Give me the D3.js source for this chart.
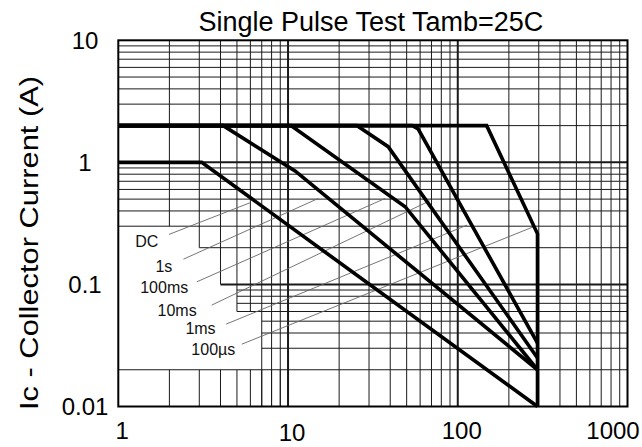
<!DOCTYPE html>
<html><head><meta charset="utf-8">
<script src="https://cdn.jsdelivr.net/npm/d3@7"></script>
<style>html,body{margin:0;padding:0;background:#fff;} svg{display:block;}</style>
</head><body>
<svg id="c" width="642" height="447"></svg>
<script>
// ---------- data ----------
const xTickValues = [1, 10, 100, 1000];
const xTickLabels = ["1", "10", "100", "1000"];
const yTickValues = [10, 1, 0.1, 0.01];
const yTickLabels = ["10", "1", "0.1", "0.01"];
const titleText = "Single Pulse Test Tamb=25C";
const yTitleText = "Ic - Collector Current (A)";

const seriesNames = ["DC", "1s", "100ms", "10ms", "1ms", "100µs"];
const dcV   = [1, 3.1, 295],          dcI   = [1, 1, 0.01];
const s1V   = [1, 4.15, 11, 295],     s1I   = [2, 2, 0.85, 0.02];
const ms100V= [1, 10.4, 49, 295],     ms100I= [2, 2, 0.433, 0.02];
const ms10V = [1, 25.4, 38.9, 295],   ms10I = [2, 2, 1.345, 0.025];
const ms1V  = [1, 54, 58.5, 295],     ms1I  = [2, 2, 1.875, 0.033];
const us100V= [1, 148, 295, 295],     us100I= [2, 2, 0.26, 0.01];

// label anchors and leader lines (data coordinates)
const labelV = [1.47, 1.857, 1.865, 2.22, 3.05, 3.63];
const labelI = [0.223, 0.141, 0.0945, 0.0616, 0.0436, 0.0293];
const leadFromV = [1.99, 2.42, 2.90, 3.55, 4.32, 5.34];
const leadFromI = [0.257, 0.161, 0.105, 0.0677, 0.0473, 0.0324];
const leadToV = [5.98, 15.1, 37.4, 68.3, 113.3, 279.8];
const leadToI = [0.467, 0.507, 0.507, 0.484, 0.306, 0.297];

// grid structure
const minorMult = [2, 3, 4, 5, 6, 7, 8, 9];
const hGridLowI = [0.9, 0.8, 0.7, 0.6, 0.5, 0.4, 0.3, 0.2, 0.09, 0.08, 0.07, 0.06, 0.05, 0.04, 0.03, 0.02];
const hGridLowStartV = [1, 1, 1, 1, 1, 1, 1, 3, 5, 5, 5, 5, 7, 7, 7, 1];
const vGridFirstEndI = [0.3, 0.2, 0.1, 0.06, 0.06, 0.01, 0.01, 0.01];
const vGridStubTopI = 0.02;

// ---------- drawing ----------
const svg = d3.select("#c");
const x = d3.scaleLog().domain([1, 1000]).range([118.3, 627.5]);
const y = d3.scaleLog().domain([0.01, 10]).range([406.5, 40.3]);
const font = "'Liberation Sans', Arial, Helvetica, sans-serif";

const g = svg.append("g");
const gridColor = "#1a1a1a";
function seg(x1, y1, x2, y2, w) {
  g.append("line").attr("x1", x1).attr("y1", y1).attr("x2", x2).attr("y2", y2)
    .attr("stroke", gridColor).attr("stroke-width", w || 1);
}
// top decade horizontals: full width
minorMult.forEach(m => seg(x(1), y(m), x(1000), y(m)));
// lower horizontals
hGridLowI.forEach((v, i) => seg(x(hGridLowStartV[i]), y(v), x(1000), y(v)));
// first decade verticals
minorMult.forEach((m, i) => {
  seg(x(m), y(10), x(m), y(vGridFirstEndI[i]));
  seg(x(m), y(vGridStubTopI), x(m), y(0.01));
});
// other decades verticals
[10, 100].forEach(d => minorMult.forEach(m => seg(x(d * m), y(10), x(d * m), y(0.01))));
// thick decade lines
seg(x(10), y(10), x(10), y(0.01), 2);
seg(x(100), y(10), x(100), y(0.01), 2);
seg(x(1), y(1), x(1000), y(1), 2);
seg(x(4), y(0.1), x(1000), y(0.1), 2);
// border
g.append("rect").attr("x", x(1)).attr("y", y(10)).attr("width", x(1000) - x(1)).attr("height", y(0.01) - y(10))
  .attr("fill", "none").attr("stroke", "#000").attr("stroke-width", 2);

// leader lines
seriesNames.forEach((n, i) => {
  svg.append("line").attr("x1", x(leadFromV[i])).attr("y1", y(leadFromI[i]))
    .attr("x2", x(leadToV[i])).attr("y2", y(leadToI[i]))
    .attr("stroke", "#666").attr("stroke-width", 0.9);
});

// curves
const seriesV = [dcV, s1V, ms100V, ms10V, ms1V, us100V];
const seriesI = [dcI, s1I, ms100I, ms10I, ms1I, us100I];
const line = d3.line().x(d => x(d[0])).y(d => y(d[1]));
seriesV.forEach((vs, i) => {
  const pts = vs.map((v, j) => [v, seriesI[i][j]]);
  svg.append("path").attr("d", line(pts)).attr("fill", "none")
    .attr("stroke", "#000").attr("stroke-width", 3.6).attr("stroke-linejoin", "miter");
});

// labels
seriesNames.forEach((n, i) => {
  svg.append("text").attr("x", x(labelV[i])).attr("y", y(labelI[i]))
    .attr("text-anchor", "middle").attr("dominant-baseline", "central")
    .attr("font-family", font).attr("font-size", 16).attr("fill", "#111").text(n);
});

// title
svg.append("text").attr("x", (x(1) + x(1000)) / 2 - 2).attr("y", 31)
  .attr("text-anchor", "middle").attr("font-family", font).attr("font-size", 27)
  .attr("fill", "#000").text(titleText);

// y tick labels
yTickValues.forEach((v, i) => {
  svg.append("text").attr("x", 85).attr("y", y(v))
    .attr("text-anchor", "middle").attr("dominant-baseline", "central")
    .attr("font-family", font).attr("font-size", 24).attr("fill", "#000").text(yTickLabels[i]);
});
// x tick labels
xTickValues.forEach((v, i) => {
  const cx = Math.min(x(v) + 4, 613);
  svg.append("text").attr("x", cx).attr("y", 439 + (i === 1 ? 2 : 0))
    .attr("text-anchor", "middle")
    .attr("font-family", font).attr("font-size", 24).attr("fill", "#000").text(xTickLabels[i]);
});

// y title
svg.append("text").attr("transform", "translate(38,243) rotate(-90)")
  .attr("text-anchor", "middle").attr("font-family", font).attr("font-size", 25)
  .attr("textLength", 334).attr("lengthAdjust", "spacingAndGlyphs")
  .attr("fill", "#000").text(yTitleText);
</script>
</body></html>
